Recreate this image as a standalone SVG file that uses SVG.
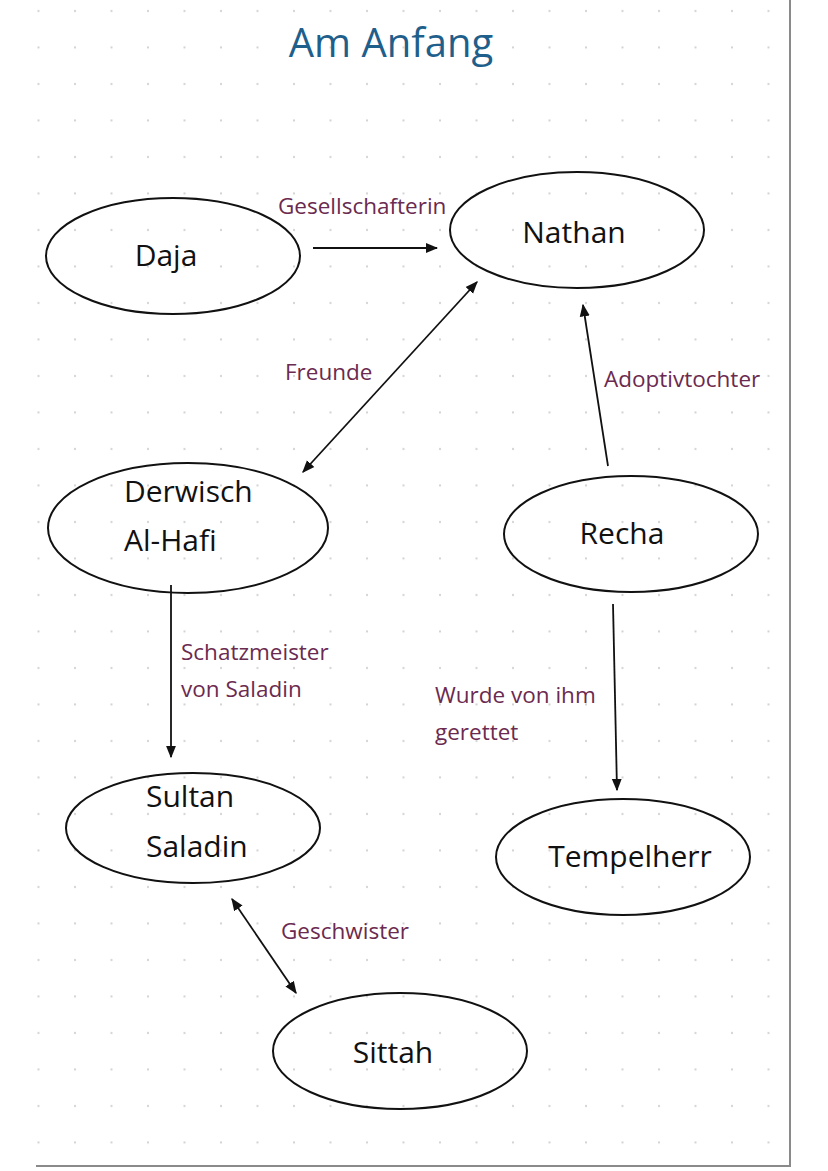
<svg xmlns="http://www.w3.org/2000/svg" width="828" height="1171" viewBox="0 0 828 1171">
<defs>
<pattern id="dots" x="0" y="0" width="36.5" height="36.5" patternUnits="userSpaceOnUse">
<circle cx="2" cy="11" r="1.1" fill="#cfcfcf"/>
</pattern>
<marker id="ah" viewBox="0 0 10 10" refX="9" refY="5" markerWidth="7" markerHeight="7" orient="auto-start-reverse">
<path d="M0,1 L10,5 L0,9 z" fill="#111"/>
</marker>
<style>
.n ellipse{fill:none;stroke:#111;stroke-width:2}
.n text{font-family:"Open Sans","Liberation Sans",sans-serif;font-size:30px;fill:#111}
.l{font-family:"Open Sans","Liberation Sans",sans-serif;font-size:22.5px;fill:#6b2a4f}
#connectors line{stroke:#111;stroke-width:1.8;fill:none}
</style>
</defs>
<rect width="828" height="1171" fill="#fff"/>
<rect x="36" y="0" width="754" height="1165" fill="url(#dots)"/>
<line x1="790" y1="0" x2="790" y2="1166" stroke="#8a8a8a" stroke-width="2"/>
<line x1="36" y1="1166" x2="791" y2="1166" stroke="#8a8a8a" stroke-width="2"/>
<text x="391" y="57" text-anchor="middle" font-family="'Open Sans','Liberation Sans',sans-serif" font-size="40" fill="#1f5f8b">Am Anfang</text>
<g id="daja" class="n"><ellipse cx="173" cy="256" rx="127" ry="58"/><text x="166" y="266" text-anchor="middle">Daja</text></g>
<g id="nathan" class="n"><ellipse cx="577" cy="230" rx="127" ry="58"/><text x="574" y="243" text-anchor="middle">Nathan</text></g>
<g id="derwisch" class="n"><ellipse cx="188" cy="528" rx="140" ry="65"/><text x="124" y="502">Derwisch</text><text x="124" y="551">Al-Hafi</text></g>
<g id="recha" class="n"><ellipse cx="631" cy="534" rx="127" ry="58"/><text x="622" y="544" text-anchor="middle">Recha</text></g>
<g id="sultan" class="n"><ellipse cx="193" cy="828" rx="127" ry="55"/><text x="146" y="807">Sultan</text><text x="146" y="857">Saladin</text></g>
<g id="tempelherr" class="n"><ellipse cx="623" cy="857" rx="127" ry="58"/><text x="630" y="867" text-anchor="middle">Tempelherr</text></g>
<g id="sittah" class="n"><ellipse cx="400" cy="1051" rx="127" ry="58"/><text x="393" y="1063" text-anchor="middle">Sittah</text></g>
<g id="connectors">
<line x1="313" y1="248" x2="437" y2="248" marker-end="url(#ah)"/>
<line x1="477" y1="282" x2="303" y2="472" marker-start="url(#ah)" marker-end="url(#ah)"/>
<line x1="608" y1="466" x2="583" y2="305" marker-end="url(#ah)"/>
<line x1="171" y1="585" x2="171" y2="757" marker-end="url(#ah)"/>
<line x1="613" y1="604" x2="617" y2="790" marker-end="url(#ah)"/>
<line x1="232" y1="899" x2="296" y2="993" marker-start="url(#ah)" marker-end="url(#ah)"/>
<text class="l" x="278" y="214">Gesellschafterin</text>
<text class="l" x="285" y="380">Freunde</text>
<text class="l" x="604" y="387">Adoptivtochter</text>
<text class="l" x="181" y="660">Schatzmeister</text>
<text class="l" x="181" y="697">von Saladin</text>
<text class="l" x="435" y="703">Wurde von ihm</text>
<text class="l" x="435" y="740">gerettet</text>
<text class="l" x="281" y="939">Geschwister</text>
</g>
</svg>
